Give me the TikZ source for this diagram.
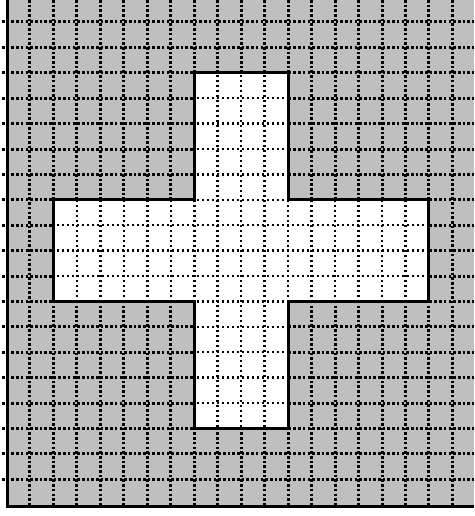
\documentclass[tikz,border=0pt]{standalone}
\tikzset{
  heavydots/.style={line width=3pt, line cap=butt, dash pattern=on 2.6pt off 2.1pt, black},
  lightdots/.style={line width=2.5pt, line cap=butt, dash pattern=on 2.2pt off 2.8pt, black},
  outline/.style={line width=3pt, black, line join=miter},
  frame/.style={line width=3pt, black}
}
\begin{document}
\begin{tikzpicture}[x=1pt,y=-1pt]
\useasboundingbox (0,0) rectangle (474,516);
% gray field
\fill[black!25] (7,0) rectangle (474,506);
% heavy dotted grid
\foreach \k in {1,...,19}{\draw[heavydots] ({6.5+23.47*\k},0) -- ({6.5+23.47*\k},505);}
\foreach \j in {0,...,18}{\draw[heavydots] (2,{22+25.4*\j}) -- (474,{22+25.4*\j});}
% cross
\def\crosspath{({6.5+23.47*2},{22+25.4*7}) -- ({6.5+23.47*8},{22+25.4*7}) -- ({6.5+23.47*8},{22+25.4*2}) -- ({6.5+23.47*12},{22+25.4*2}) -- ({6.5+23.47*12},{22+25.4*7}) -- ({6.5+23.47*18},{22+25.4*7}) -- ({6.5+23.47*18},{22+25.4*11}) -- ({6.5+23.47*12},{22+25.4*11}) -- ({6.5+23.47*12},{22+25.4*16}) -- ({6.5+23.47*8},{22+25.4*16}) -- ({6.5+23.47*8},{22+25.4*11}) -- ({6.5+23.47*2},{22+25.4*11}) -- cycle}
\fill[white] \crosspath;
\begin{scope}
\clip \crosspath;
\foreach \k in {1,...,19}{\draw[lightdots] ({6.5+23.47*\k},0) -- ({6.5+23.47*\k},505);}
\foreach \j in {0,...,18}{\draw[lightdots] (2,{22+25.4*\j}) -- (474,{22+25.4*\j});}
\end{scope}
\draw[outline] \crosspath;
% frame
\draw[frame] (7,0) -- (7,506) -- (474,506);
\end{tikzpicture}
\end{document}
